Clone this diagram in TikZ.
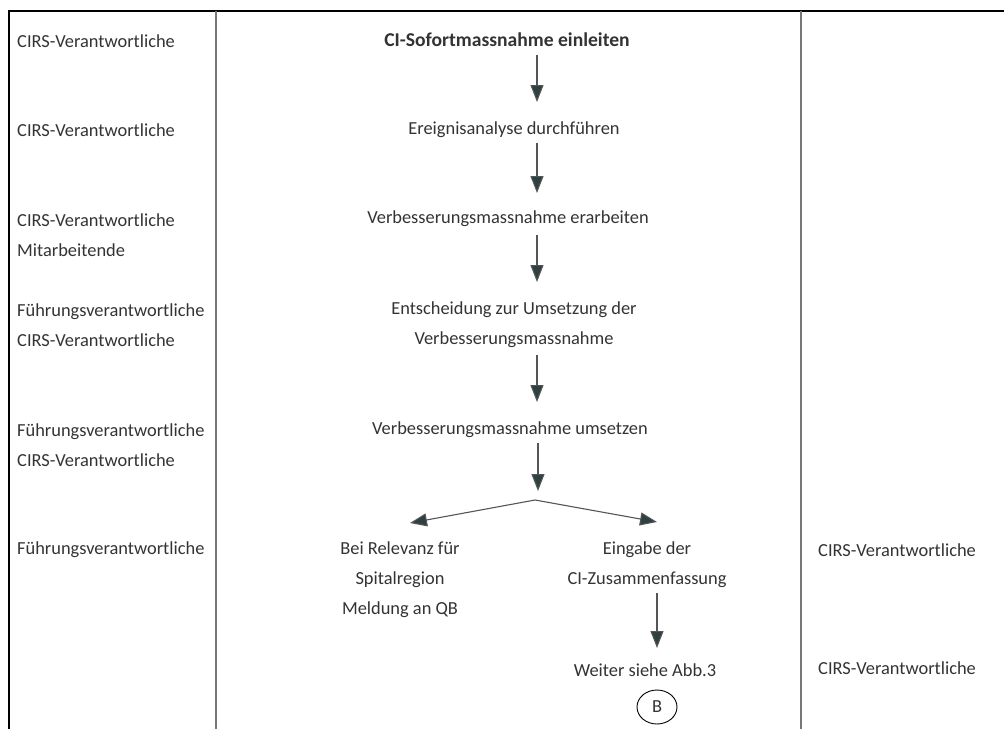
\documentclass[tikz,border=0pt]{standalone}
\usepackage{fontspec}
\setmainfont{Carlito}
\usetikzlibrary{arrows.meta,calc,shapes.geometric}
\definecolor{txtgray}{HTML}{333333}
\definecolor{linegray}{HTML}{555555}
\definecolor{headfill}{HTML}{2E4040}
\definecolor{divgray}{HTML}{777777}
\begin{document}
\begin{tikzpicture}[x=1pt,y=-1pt,
  txt/.style={font=\fontsize{18.4}{30}\selectfont, text=txtgray, inner sep=0pt},
  lefttxt/.style={txt, anchor=west, align=left},
  midtxt/.style={txt, align=center},
  flow/.style={draw=linegray, line width=1.1pt, -{Triangle[width=13pt,length=17pt,fill=headfill]}},
  frame/.style={draw=black, line width=2.2pt},
  divider/.style={draw=divgray, line width=1.5pt}]
\useasboundingbox (0,0) rectangle (1004,729);
% frame and column lines
\draw[frame] (9,729) -- (9,11) -- (1004,11);
\draw[divider] (216,11) -- (216,729);
\draw[divider] (801,11) -- (801,729);
% left column
\node[lefttxt] (l1) at (17,41) {CIRS-Verantwortliche};
\node[lefttxt] (l2) at (17,130) {CIRS-Verantwortliche};
\node[lefttxt] (l3) at (17,235) {CIRS-Verantwortliche\\Mitarbeitende};
\node[lefttxt] (l4) at (17,325) {Führungsverantwortliche\\CIRS-Verantwortliche};
\node[lefttxt] (l5) at (17,445) {Führungsverantwortliche\\CIRS-Verantwortliche};
\node[lefttxt] (l6) at (17,550) {Führungsverantwortliche};
% right column
\node[lefttxt] (r1) at (818,550) {CIRS-Verantwortliche};
\node[lefttxt] (r2) at (818,668) {CIRS-Verantwortliche};
% middle column
\coordinate (ax) at (537,0);
\node[midtxt, font=\fontsize{19.6}{30}\selectfont\bfseries] (n1) at (507,40) {CI-Sofortmassnahme einleiten};
\node[midtxt] (n2) at (514,130) {Ereignisanalyse durchführen};
\node[midtxt] (n3) at (508,219) {Verbesserungsmassnahme erarbeiten};
\node[midtxt] (n4) at (514,325) {Entscheidung zur Umsetzung der\\Verbesserungsmassnahme};
\node[midtxt] (n5) at (510,430) {Verbesserungsmassnahme umsetzen};
\coordinate (split) at (535,500);
\node[midtxt] (bei) at (400,580) {Bei Relevanz für\\Spitalregion\\Meldung an QB};
\node[midtxt] (ein) at (647,565) {Eingabe der\\CI-Zusammenfassung};
\node[midtxt] (wei) at (645,670) {Weiter siehe Abb.3};
\node[draw=black, line width=0.9pt, ellipse, minimum width=40pt, minimum height=34pt, inner sep=0pt, txt] (B) at (657,707) {B};
% connectors
\draw[flow] ($(n1.center -| ax)+(0,15)$) -- ($(n2.center -| ax)+(0,-28)$);
\draw[flow] ($(n2.center -| ax)+(0,13)$) -- ($(n3.center -| ax)+(0,-26)$);
\draw[flow] ($(n3.center -| ax)+(0,16)$) -- ($(n4.center -| ax)+(0,-43)$);
\draw[flow] ($(n4.center -| ax)+(0,30)$) -- ($(n5.center -| ax)+(0,-28)$);
\draw[flow] ($(n5.center -| ax)+(1,13)$) -- ($(split)+(3,-9)$);
\draw[flow] (split) -- ($(bei.center)+(10,-57)$);
\draw[flow] (split) -- ($(ein.center)+(10,-43)$);
\draw[flow] ($(ein.center)+(10,28)$) -- ($(wei.center)+(12,-22)$);
\end{tikzpicture}
\end{document}
